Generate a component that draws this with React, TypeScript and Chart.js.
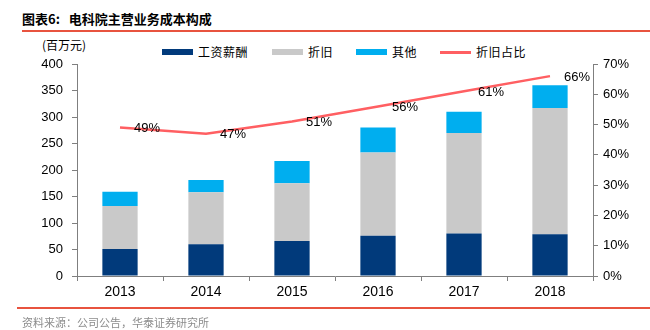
import React, { useEffect, useRef } from "react";
import { Chart, registerables } from "chart.js";

Chart.register(...registerables);

const years = ["2013", "2014", "2015", "2016", "2017", "2018"];
const salary = [51, 60, 66, 76, 80, 79];
const depreciation = [81, 98, 109, 157, 190, 238];
const other = [27, 23, 42, 47, 40, 43];
const depRatio = [0.49, 0.47, 0.51, 0.56, 0.61, 0.66];
const depRatioLabels = ["49%", "47%", "51%", "56%", "61%", "66%"];

const NAVY = "#013A7B";
const GRAY = "#C9C9C9";
const CYAN = "#00AEEF";
const RED = "#FF5F62";
const AXIS = "#7F7F7F";
const FONT = "'Liberation Sans', Arial, sans-serif";
const CJK = "'Noto Sans CJK SC', sans-serif";

const labelPlugin = {
  id: "ratioLabels",
  afterDatasetsDraw(chart: any) {
    const meta = chart.getDatasetMeta(0);
    const ctx = chart.ctx;
    ctx.save();
    ctx.font = `13px ${FONT}`;
    ctx.fillStyle = "#000";
    ctx.textAlign = "left";
    ctx.textBaseline = "middle";
    meta.data.forEach((pt: any, i: number) => {
      ctx.fillText(depRatioLabels[i], pt.x + 14, pt.y + 1);
    });
    ctx.restore();
  },
};

export default function App() {
  const ref = useRef<HTMLCanvasElement>(null);
  useEffect(() => {
    const chart = new Chart(ref.current!, {
      type: "bar",
      data: {
        labels: years,
        datasets: [
          {
            type: "line",
            label: "折旧占比",
            data: depRatio,
            yAxisID: "y1",
            borderColor: RED,
            backgroundColor: RED,
            borderWidth: 2.5,
            pointRadius: 0,
            tension: 0,
            order: 0,
          } as any,
          {
            label: "工资薪酬",
            data: salary,
            backgroundColor: NAVY,
            stack: "s",
            order: 1,
          },
          {
            label: "折旧",
            data: depreciation,
            backgroundColor: GRAY,
            stack: "s",
            order: 1,
          },
          {
            label: "其他",
            data: other,
            backgroundColor: CYAN,
            stack: "s",
            order: 1,
          },
        ],
      },
      options: {
        responsive: false,
        animation: false,
        devicePixelRatio: 1,
        layout: { padding: { top: 64, left: 0, right: 0, bottom: 0 } },
        datasets: {
          bar: { barPercentage: 0.41, categoryPercentage: 1 },
        } as any,
        plugins: {
          legend: { display: false },
          tooltip: { enabled: false },
        },
        scales: {
          x: {
            stacked: true,
            offset: true,
            grid: {
              display: true,
              offset: true,
              drawOnChartArea: false,
              drawTicks: true,
              tickLength: 5,
              color: AXIS,
            },
            border: { display: true, color: AXIS, width: 1 },
            ticks: {
              font: { family: FONT, size: 14 },
              color: "#000",
              padding: 3,
              maxRotation: 0,
            },
            afterFit(scale: any) {
              scale.height = 54;
            },
          },
          y: {
            position: "left",
            stacked: true,
            min: 0,
            max: 400,
            ticks: {
              stepSize: 50,
              font: { family: FONT, size: 13 },
              color: "#000",
              padding: 9,
            },
            grid: {
              display: true,
              drawOnChartArea: false,
              drawTicks: true,
              tickLength: 5,
              color: AXIS,
            },
            border: { display: true, color: AXIS, width: 1 },
            afterFit(scale: any) {
              scale.width = 77;
            },
          },
          y1: {
            position: "right",
            min: 0,
            max: 0.7,
            ticks: {
              stepSize: 0.1,
              font: { family: FONT, size: 13 },
              color: "#000",
              padding: 5,
              callback: (v: any) => `${Math.round(Number(v) * 100)}%`,
            },
            grid: {
              display: true,
              drawOnChartArea: false,
              drawTicks: true,
              tickLength: 5,
              color: AXIS,
            },
            border: { display: true, color: AXIS, width: 1 },
            afterFit(scale: any) {
              scale.width = 57;
            },
          },
        },
      },
      plugins: [labelPlugin],
    });
    return () => chart.destroy();
  }, []);

  const legendItems = [
    { label: "工资薪酬", color: NAVY, left: 162, line: false },
    { label: "折旧", color: GRAY, left: 272, line: false },
    { label: "其他", color: CYAN, left: 356, line: false },
    { label: "折旧占比", color: RED, left: 440, line: true },
  ];

  return (
    <div
      style={{
        position: "absolute",
        left: 0,
        top: 0,
        width: 650,
        height: 330,
        background: "#fff",
        overflow: "hidden",
      }}
    >
      <div
        style={{
          position: "absolute",
          left: 22,
          top: 10,
          fontFamily: CJK,
          fontWeight: 700,
          fontSize: 13,
          lineHeight: "18px",
          color: "#000",
          whiteSpace: "nowrap",
        }}
      >
        图表6:&nbsp;&nbsp;&nbsp;电科院主营业务成本构成
      </div>
      <div
        style={{
          position: "absolute",
          left: 22,
          top: 30,
          width: 628,
          height: 1.5,
          background: "#E8533F",
        }}
      />
      <div
        style={{
          position: "absolute",
          left: 42,
          top: 37,
          fontFamily: CJK,
          fontSize: 12,
          lineHeight: "16px",
          color: "#000",
          whiteSpace: "nowrap",
        }}
      >
        (百万元)
      </div>
      {legendItems.map((it) => (
        <div key={it.label}>
          <div
            style={{
              position: "absolute",
              left: it.left,
              top: it.line ? 51 : 49,
              width: 31,
              height: it.line ? 2.5 : 6,
              background: it.color,
            }}
          />
          <div
            style={{
              position: "absolute",
              left: it.left + 36,
              top: 44,
              fontFamily: CJK,
              fontSize: 12,
              lineHeight: "16px",
              letterSpacing: "0.5px",
              color: "#000",
              whiteSpace: "nowrap",
            }}
          >
            {it.label}
          </div>
        </div>
      ))}
      <canvas
        ref={ref}
        width={650}
        height={330}
        style={{ position: "absolute", left: 0, top: 0, width: 650, height: 330 }}
      />
      <div
        style={{
          position: "absolute",
          left: 17,
          top: 307,
          width: 633,
          height: 1.5,
          background: "#E8533F",
        }}
      />
      <div
        style={{
          position: "absolute",
          left: 22,
          top: 315,
          fontFamily: CJK,
          fontSize: 11,
          lineHeight: "15px",
          color: "#8C8C8C",
          whiteSpace: "nowrap",
        }}
      >
        资料来源：公司公告，华泰证券研究所
      </div>
    </div>
  );
}
